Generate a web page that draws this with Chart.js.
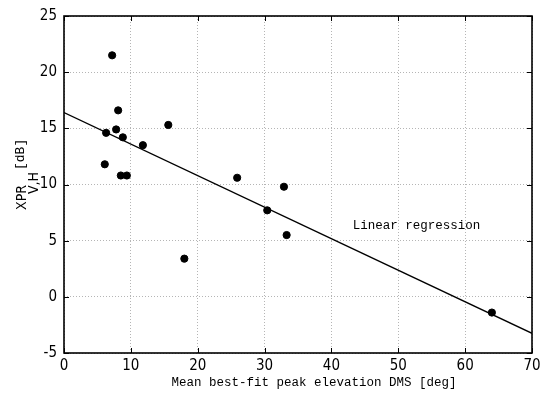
<!DOCTYPE html>
<html>
<head>
<meta charset="utf-8">
<script src="https://cdn.jsdelivr.net/npm/chart.js@4"></script>
<style>
  html, body { margin: 0; padding: 0; background: #fff; }
  #wrap { width: 555px; height: 401px; }
</style>
</head>
<body>
<div id="wrap"><canvas id="chart"></canvas></div>
<script>
// Data
const elevation = [7.2, 8.1, 6.3, 7.8, 8.8, 11.8, 15.6, 6.1, 8.5, 9.4, 18.0, 25.9, 32.9, 30.4, 33.3, 64.0];
const xpr = [21.5, 16.6, 14.6, 14.9, 14.2, 13.5, 15.3, 11.8, 10.8, 10.8, 3.4, 10.6, 9.8, 7.7, 5.5, -1.4];
const fitX = [0, 70];
const fitY = [16.4, -3.25];
const xTicks = [0, 10, 20, 30, 40, 50, 60, 70];
const yTicks = [-5, 0, 5, 10, 15, 20, 25];
const labelPos = { x: 43.2, y: 6.3 };

const FONT = '"Liberation Mono", "DejaVu Sans Mono", monospace';
const TICK_FONT = '"Liberation Sans Narrow", "DejaVu Sans Condensed", "Roboto Condensed", Roboto, sans-serif';

// Box, inward ticks and the axis titles
const framePlugin = {
    id: 'frame',
    afterDraw(chart) {
        const ctx = chart.ctx;
        const a = chart.chartArea;
        const xs = chart.scales.x;
        const ys = chart.scales.y;
        ctx.save();
        ctx.strokeStyle = '#000';
        ctx.lineWidth = 1.6;
        ctx.strokeRect(a.left, a.top, a.right - a.left, a.bottom - a.top);

        ctx.lineWidth = 1;
        ctx.beginPath();
        xTicks.forEach(v => {
            const px = Math.round(xs.getPixelForValue(v)) + 0.5;
            ctx.moveTo(px, a.bottom); ctx.lineTo(px, a.bottom - 5);
            ctx.moveTo(px, a.top); ctx.lineTo(px, a.top + 5);
        });
        yTicks.forEach(v => {
            const py = Math.round(ys.getPixelForValue(v)) + 0.5;
            ctx.moveTo(a.left, py); ctx.lineTo(a.left + 5, py);
            ctx.moveTo(a.right, py); ctx.lineTo(a.right - 5, py);
        });
        ctx.stroke();

        ctx.fillStyle = '#000';
        // x title
        ctx.font = '12.5px ' + FONT;
        ctx.textAlign = 'center';
        ctx.textBaseline = 'middle';
        ctx.fillText('Mean best-fit peak elevation DMS [deg]', (a.left + a.right) / 2 + 16, 383);

        // annotation
        ctx.textAlign = 'left';
        ctx.fillText('Linear regression', xs.getPixelForValue(labelPos.x), ys.getPixelForValue(labelPos.y));

        // y title with subscript
        ctx.translate(22, 198);
        ctx.rotate(-Math.PI / 2);
        ctx.textAlign = 'left';
        ctx.font = '14px ' + TICK_FONT;
        ctx.fillText('XPR', -12, 0);
        ctx.fillText('V,H', 4, 12);
        ctx.font = '13px ' + FONT;
        ctx.fillText('[dB]', 28, -1);
        ctx.restore();
    }
};

new Chart(document.getElementById('chart'), {
    type: 'scatter',
    data: {
        datasets: [{
            data: elevation.map((x, i) => ({ x, y: xpr[i] })),
            backgroundColor: '#000',
            borderColor: '#000',
            pointRadius: 3.6,
            pointHoverRadius: 3.6
        }, {
            type: 'line',
            data: fitX.map((x, i) => ({ x, y: fitY[i] })),
            borderColor: '#000',
            borderWidth: 1.3,
            pointRadius: 0,
            fill: false
        }]
    },
    options: {
        responsive: true,
        maintainAspectRatio: false,
        animation: false,
        layout: { padding: { top: 8, right: 23, left: 0, bottom: 0 } },
        plugins: {
            legend: { display: false },
            tooltip: { enabled: false }
        },
        scales: {
            x: {
                type: 'linear',
                min: 0,
                max: 70,
                afterFit: s => { s.height = 48; },
                afterBuildTicks: s => { s.ticks = xTicks.map(v => ({ value: v })); },
                grid: { color: '#b5b5b5', lineWidth: 1, drawTicks: false },
                border: { display: false, dash: [1, 2] },
                ticks: { color: '#000', padding: 4, font: { family: TICK_FONT, size: 15 } }
            },
            y: {
                type: 'linear',
                min: -5,
                max: 25,
                afterFit: s => { s.width = 64; },
                afterBuildTicks: s => { s.ticks = yTicks.map(v => ({ value: v })); },
                grid: { color: '#b5b5b5', lineWidth: 1, drawTicks: false },
                border: { display: false, dash: [1, 2] },
                ticks: { color: '#000', padding: 7, font: { family: TICK_FONT, size: 15 } }
            }
        }
    },
    plugins: [framePlugin]
});
</script>
</body>
</html>
